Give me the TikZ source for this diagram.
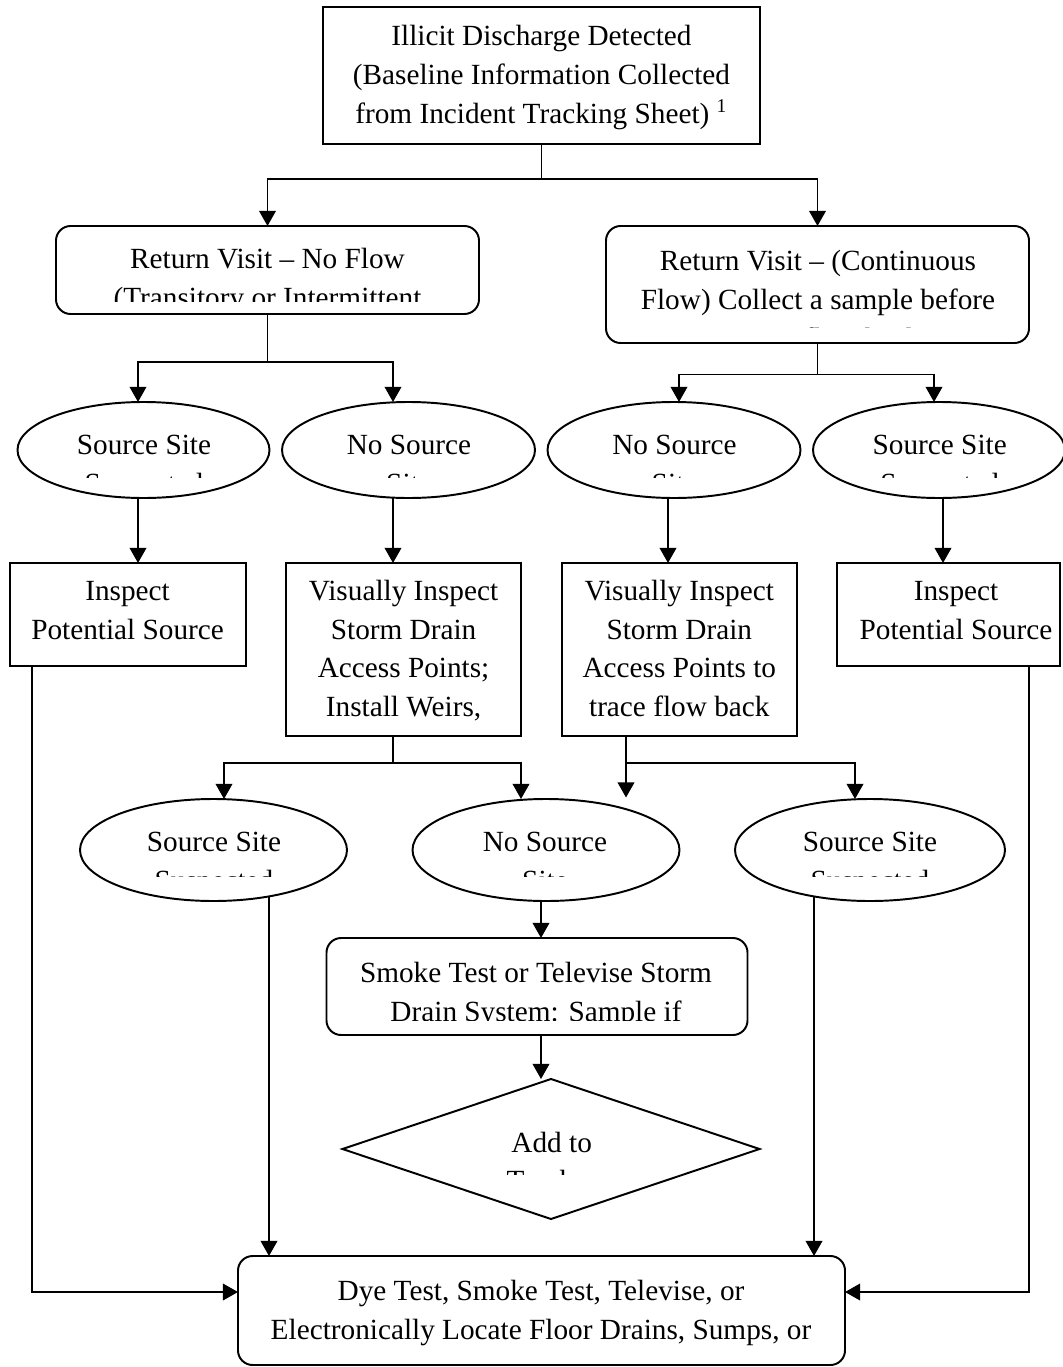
\documentclass[tikz,border=0pt]{standalone}
\usepackage{fontspec}
\setmainfont{Liberation Serif}
\usetikzlibrary{shapes.geometric,arrows.meta,calc}
\pgfdeclarelayer{background}
\pgfsetlayers{background,main}
\def\pxu{0.41pt}
\tikzset{
  shp/.style={draw, line width=0.8pt, fill=white, inner sep=0pt, outer sep=0pt},
  boxr/.style={shp, rectangle},
  boxround/.style={shp, rectangle, rounded corners=6pt},
  ell/.style={shp, ellipse},
  dia/.style={shp, diamond},
  txt/.style={align=center, inner sep=0pt, outer sep=0pt, anchor=base, font=\fontsize{12pt}{15.8pt}\selectfont},
  ln/.style={line width=0.8pt},
  arr/.style={line width=0.8pt, -{Triangle[length=6.2pt,width=6.8pt]}},
}
\begin{document}
\begin{tikzpicture}[x=0.41pt, y=-0.41pt]
\useasboundingbox (0,0) rectangle (1062,1367);
% helper coordinates
\coordinate (r179) at (0,179);
\coordinate (r362) at (0,362);
\coordinate (r374) at (0,374.5);
\coordinate (r763) at (0,763);
\coordinate (r1292) at (0,1292);
\coordinate (c138) at (138,0);
\coordinate (c393) at (393,0);
\coordinate (c679) at (679,0);
\coordinate (c934) at (934,0);
\coordinate (c668) at (668,0);
\coordinate (c943) at (943,0);
\coordinate (c224) at (224,0);
\coordinate (c521) at (521,0);
\coordinate (c626) at (626,0);
\coordinate (c855) at (855,0);
\coordinate (c269) at (269,0);
\coordinate (c541) at (541,0);
\coordinate (c814) at (814,0);
\coordinate (c32) at (32,0);
\coordinate (c1029) at (1029,0);
\coordinate (f626) at (626,797.5);

% shapes
\node[boxr, minimum width=437*\pxu, minimum height=137*\pxu] (top) at (541.5,75.5) {};
\node[boxround, minimum width=423*\pxu, minimum height=88*\pxu] (rv1) at (267.5,270) {};
\node[boxround, minimum width=423*\pxu, minimum height=117*\pxu] (rv2) at (817.5,284.5) {};
\node[ell, minimum width=252*\pxu, minimum height=96*\pxu] (e1) at (143.5,450) {};
\node[ell, minimum width=253*\pxu, minimum height=96*\pxu] (e2) at (408.5,450) {};
\node[ell, minimum width=253*\pxu, minimum height=96*\pxu] (e3) at (674,450) {};
\node[ell, minimum width=252*\pxu, minimum height=96*\pxu] (e4) at (939,450) {};
\node[boxr, minimum width=236*\pxu, minimum height=103*\pxu] (b1) at (128,614.5) {};
\node[boxr, minimum width=235*\pxu, minimum height=173*\pxu] (b2) at (403.5,649.5) {};
\node[boxr, minimum width=235*\pxu, minimum height=173*\pxu] (b3) at (679.5,649.5) {};
\node[boxr, minimum width=223*\pxu, minimum height=103*\pxu] (b4) at (948.5,614.5) {};
\node[ell, minimum width=267*\pxu, minimum height=102*\pxu] (e5) at (213.5,850) {};
\node[ell, minimum width=267*\pxu, minimum height=102*\pxu] (e6) at (546,850) {};
\node[ell, minimum width=270*\pxu, minimum height=102*\pxu] (e7) at (870,850) {};
\node[boxround, minimum width=421*\pxu, minimum height=97*\pxu] (smoke) at (537,986.5) {};
\node[dia, minimum width=417*\pxu, minimum height=140*\pxu] (dia) at (551,1149) {};
\node[boxround, minimum width=607*\pxu, minimum height=109*\pxu] (dye) at (541.5,1310.5) {};

% texts (anchor=base sits on the last line's baseline)
\node[txt] (ttop) at (541.5,123) {Illicit Discharge Detected\\(Baseline Information Collected\\from Incident Tracking Sheet) \textsuperscript{1}};
\begin{scope}
\clip (56,226) rectangle (479,301);
\node[txt] (trv1) at (267.5,307.5) {Return Visit – No Flow\\(Transitory or Intermittent};
\end{scope}
\begin{scope}
\clip (606,226) rectangle (1029,327.8);
\node[txt] (trv2) at (818,348) {Return Visit – (Continuous\\Flow) Collect a sample before\\tracing flow back};
\end{scope}
\begin{scope}
\clip (0,400) rectangle (1062,477);
\node[txt] (te1) at (144,493.5) {Source Site\\Suspected};
\node[txt] (te2) at (409,493.5) {No Source\\Site};
\node[txt] (te3) at (674.5,493.5) {No Source\\Site};
\node[txt] (te4) at (939.7,493.5) {Source Site\\Suspected};
\end{scope}
\node[txt] (tb1) at (127.6,639.5) {Inspect\\Potential Source};
\node[txt] (tb2) at (403.6,716.5) {Visually Inspect\\Storm Drain\\Access Points;\\Install Weirs,};
\node[txt] (tb3) at (679.3,716.5) {Visually Inspect\\Storm Drain\\Access Points to\\trace flow back};
\node[txt] (tb4) at (956,639.5) {Inspect\\Potential Source};
\begin{scope}
\clip (0,800) rectangle (1062,876);
\node[txt] (te5) at (214,890) {Source Site\\Suspected};
\node[txt] (te6) at (545,890) {No Source\\Site};
\node[txt] (te7) at (870,890) {Source Site\\Suspected};
\end{scope}
\begin{scope}
\clip (326,938) rectangle (748,1020.5);
\node[txt] (tsmoke) at (536,1021.2) {Smoke Test or Televise Storm\\Drain System: Sample if};
\end{scope}
\begin{scope}
\clip (343,1079) rectangle (760,1174);
\node[txt] (tdia) at (551.7,1190.8) {Add to\\Tracker};
\end{scope}
\node[txt] (tdye) at (541,1339) {Dye Test, Smoke Test, Televise, or\\Electronically Locate Floor Drains, Sumps, or};

% connectors
\begin{pgfonlayer}{background}
\draw[ln] (top.south) -- (top.south |- r179);
\draw[arr] (top.south |- r179) -| (rv1.north);
\draw[arr] (top.south |- r179) -| (rv2.north);
\draw[ln] (rv1.south) -- (rv1.south |- r362);
\draw[arr] (rv1.south |- r362) -| (e1.north -| c138);
\draw[arr] (rv1.south |- r362) -| (e2.north -| c393);
\draw[ln] (rv2.south) -- (rv2.south |- r374);
\draw[arr] (rv2.south |- r374) -| (e3.north -| c679);
\draw[arr] (rv2.south |- r374) -| (e4.north -| c934);
\draw[arr] (e1 -| c138) -- (b1.north -| c138);
\draw[arr] (e2 -| c393) -- (b2.north -| c393);
\draw[arr] (e3 -| c668) -- (b3.north -| c668);
\draw[arr] (e4 -| c943) -- (b4.north -| c943);
\draw[ln] (b2.south -| c393) -- (c393 |- r763);
\draw[arr] (c393 |- r763) -| (e5.north -| c224);
\draw[arr] (c393 |- r763) -| (e6.north -| c521);
\draw[arr] (b3.south -| c626) -- (f626);
\draw[arr] (c626 |- r763) -| (e7.north -| c855);
\draw[arr] (e5 -| c269) -- (dye.north -| c269);
\draw[arr] (e7 -| c814) -- (dye.north -| c814);
\draw[arr] (e6 -| c541) -- (smoke.north -| c541);
\draw[arr] (smoke.south -| c541) -- (dia.north -| c541);
\draw[arr] (b1.south -| c32) |- (dye.west |- r1292);
\draw[arr] (b4.south -| c1029) |- (dye.east |- r1292);
\end{pgfonlayer}
\end{tikzpicture}
\end{document}
